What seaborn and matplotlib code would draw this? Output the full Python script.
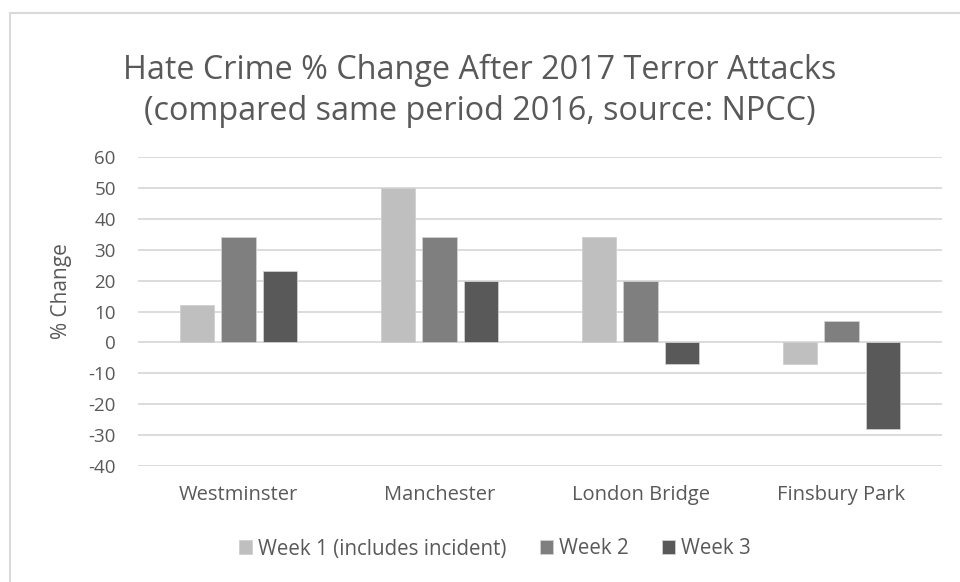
import numpy as np
import pandas as pd
import seaborn as sns
import matplotlib.pyplot as plt
from matplotlib.patches import Rectangle

# Data
sites = ["Westminster", "Manchester", "London Bridge", "Finsbury Park"]
weeks = ["Week 1 (includes incident)", "Week 2", "Week 3"]
week1 = [12, 50, 34, -7]
week2 = [34, 34, 20, 7]
week3 = [23, 20, -7, -28]
colors = ["#BFBFBF", "#7F7F7F", "#595959"]

df = pd.DataFrame({
    "site": sites * 3,
    "week": np.repeat(weeks, len(sites)),
    "change": week1 + week2 + week3,
})

sns.set_style("white")
plt.rcParams["font.family"] = ["Open Sans", "DejaVu Sans"]
plt.rcParams["axes.unicode_minus"] = False
text_col = "#595959"

fig = plt.figure(figsize=(9.6, 5.82), dpi=100)
ax = fig.add_axes([138 / 960, 1 - 466 / 582, (942 - 138) / 960, (466 - 157) / 582])

sns.barplot(data=df, x="site", y="change", hue="week", palette=colors,
            width=0.62, gap=0.18, ax=ax, edgecolor="#D0D0D0", linewidth=0.6,
            zorder=3)

ax.set_ylim(-40, 60)
ax.set_yticks(range(-40, 61, 10))
ax.grid(axis="y", color="#D9D9D9", lw=1.3, zorder=0)
ax.set_axisbelow(True)
for s in ax.spines.values():
    s.set_visible(False)
ax.tick_params(axis="both", length=0, labelcolor=text_col, labelsize=13.5)
ax.tick_params(axis="x", pad=14, labelsize=14.5)
ax.tick_params(axis="y", pad=16)
ax.set_xlabel("")
ax.set_ylabel("% Change", color=text_col, fontsize=15)
ax.yaxis.set_label_coords(62 / 960, 0.5, transform=fig.transFigure)
ax.yaxis.label.set_va("center")

fig.text(0.5, 1 - 70 / 582, "Hate Crime % Change After 2017 Terror Attacks",
         ha="center", va="center", fontsize=23.3, color=text_col)
fig.text(0.5, 1 - 112 / 582, "(compared same period 2016, source: NPCC)",
         ha="center", va="center", fontsize=23.3, color=text_col)

ax.legend(loc="center", bbox_to_anchor=(495 / 960, 1 - 549 / 582), bbox_transform=fig.transFigure,
          ncol=3, frameon=False, fontsize=14.8, labelcolor=text_col,
          handlelength=0.65, handleheight=0.65, handletextpad=0.3, columnspacing=1.6)

fig.patches.append(Rectangle((10 / 960, -0.1), 1.2, 1 - 13 / 582 + 0.1,
                             transform=fig.transFigure, fill=False,
                             edgecolor="#D9D9D9", lw=1.5))

fig.savefig("out.png", dpi=100)
